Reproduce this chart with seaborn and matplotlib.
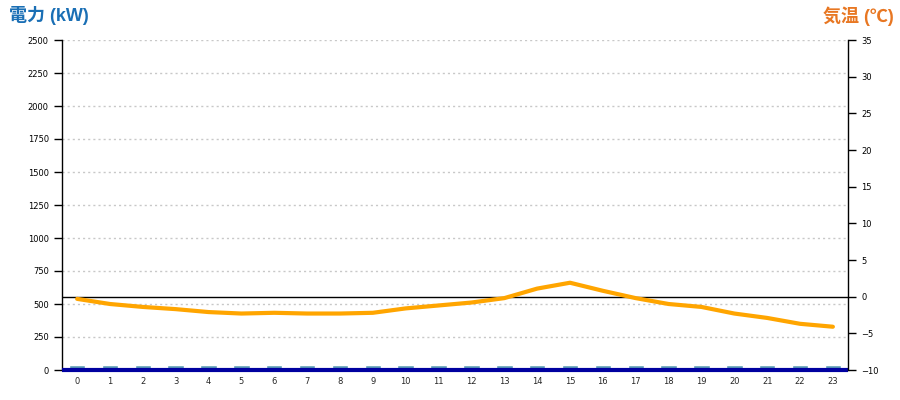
import matplotlib
matplotlib.use("Agg")
import matplotlib.pyplot as plt
import seaborn as sns
import pandas as pd

# --- data ---
hours = list(range(24))
power_kw = [40] * 24  # bars are almost flat
temp_c = [-0.3, -1.0, -1.4, -1.7, -2.1, -2.3, -2.2, -2.3, -2.3, -2.2,
          -1.6, -1.2, -0.8, -0.2, 1.1, 1.9, 0.8, -0.2, -1.0, -1.4,
          -2.3, -2.9, -3.7, -4.1]
left_ticks = list(range(0, 2501, 250))
right_ticks = list(range(-10, 36, 5))

df = pd.DataFrame({"hour": hours, "power": power_kw, "temp": temp_c})

sns.set_style("white")
plt.rcParams['font.family'] = ['DejaVu Sans', 'Noto Sans CJK JP']

fig = plt.figure(figsize=(9, 4), dpi=100)
ax = fig.add_axes([62 / 900, 30 / 400, 786 / 900, 330 / 400])

# power bars (left axis)
sns.barplot(data=df, x="hour", y="power", color="#5b9bb5", width=0.5,
            saturation=1, ax=ax, zorder=2)
ax.axhline(0, color="#0000a0", lw=3, zorder=3, clip_on=False,
           solid_capstyle="butt")
ax.set_ylim(0, 2500)
ax.set_yticks(left_ticks)
ax.set_xlim(-0.46, 23.46)
ax.yaxis.grid(True, linestyle=(0, (1.5, 2.2)), color="#c8c8c8", lw=1)
ax.set_axisbelow(True)
ax.set_xlabel("")
ax.set_ylabel("")
ax.tick_params(axis="y", direction="out", length=6, width=1, labelsize=6,
               left=True, colors="black")
ax.tick_params(axis="x", length=0, labelsize=6, pad=5)
for s in ["top", "bottom", "right"]:
    ax.spines[s].set_visible(False)
ax.spines["left"].set_color("black")
ax.spines["left"].set_linewidth(1)

# temperature line (right axis)
ax2 = ax.twinx()
ax2.axhline(0, color="black", lw=1, zorder=1)
sns.lineplot(data=df, x="hour", y="temp", color="#ffa500", lw=3, ax=ax2,
             zorder=4)
ax2.set_ylim(-10, 35)
ax2.set_yticks(right_ticks)
ax2.set_xlim(-0.46, 23.46)
ax2.set_xlabel("")
ax2.set_ylabel("")
ax2.tick_params(axis="y", direction="out", length=6, width=1, labelsize=6,
                right=True, colors="black")
for s in ["top", "bottom", "left"]:
    ax2.spines[s].set_visible(False)
ax2.spines["right"].set_color("black")
ax2.spines["right"].set_linewidth(1)

title_font = ['Liberation Sans', 'Noto Sans CJK JP']
fig.text(0.01, 0.985, "電力 (kW)", color="#1a6fb5", fontsize=13,
         fontweight="bold", ha="left", va="top", family=title_font)
fig.text(0.993, 0.985, "気温 (℃)", color="#e87722", fontsize=13,
         fontweight="bold", ha="right", va="top", family=title_font)

fig.savefig("out.png", dpi=100)
